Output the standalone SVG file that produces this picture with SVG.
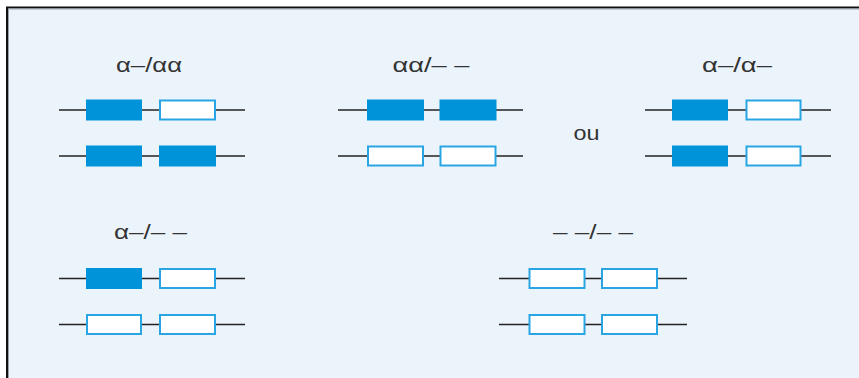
<svg xmlns="http://www.w3.org/2000/svg" width="859" height="378" viewBox="0 0 859 378">
<style>
.bg{fill:#EBF3FB}
.ln{stroke:#222;stroke-width:1.6;fill:none}
.f{fill:#0093DA}
.o{fill:#fff;stroke:#2AA5E3;stroke-width:2}
.t{font-family:"Liberation Sans",Arial,sans-serif;font-size:20px;fill:#333;text-anchor:middle}
</style>
<rect class="bg" x="6" y="7" width="853" height="371"/>
<path d="M7,378 V7.5 H859" fill="none" stroke="#111" stroke-width="2"/>
<path d="M8.5,378 V9 H859" fill="none" stroke="#9AA3AA" stroke-width="1"/>

<g id="connectors">
<line class="ln" x1="59" y1="110" x2="245" y2="110"/>
<line class="ln" x1="59" y1="156" x2="245" y2="156"/>
<line class="ln" x1="338" y1="110" x2="523" y2="110"/>
<line class="ln" x1="338" y1="156" x2="523" y2="156"/>
<line class="ln" x1="645" y1="110" x2="831" y2="110"/>
<line class="ln" x1="645" y1="156" x2="831" y2="156"/>
<line class="ln" x1="59" y1="278.5" x2="245" y2="278.5"/>
<line class="ln" x1="59" y1="324.5" x2="245" y2="324.5"/>
<line class="ln" x1="499" y1="278.5" x2="687" y2="278.5"/>
<line class="ln" x1="499" y1="324.5" x2="687" y2="324.5"/>
</g>

<g id="g1">
<text class="t" x="149" y="71.5" textLength="66" lengthAdjust="spacingAndGlyphs">α–/αα</text>
<rect class="f" x="86" y="99.5" width="56" height="21"/>
<rect class="o" x="160" y="100.5" width="55" height="19"/>
<rect class="f" x="86" y="145.5" width="56" height="21"/>
<rect class="f" x="159" y="145.5" width="57" height="21"/>
</g>

<g id="g2">
<text class="t" x="431" y="71.5" textLength="77" lengthAdjust="spacingAndGlyphs">αα/– –</text>
<rect class="f" x="367" y="99.5" width="57" height="21"/>
<rect class="f" x="439.5" y="99.5" width="57" height="21"/>
<rect class="o" x="368" y="146.5" width="55" height="19"/>
<rect class="o" x="440.5" y="146.5" width="55" height="19"/>
</g>

<g id="ou">
<text class="t" x="586.5" y="140" font-size="19" textLength="26" lengthAdjust="spacingAndGlyphs">ou</text>
</g>

<g id="g3">
<text class="t" x="737" y="71.5" textLength="70" lengthAdjust="spacingAndGlyphs">α–/α–</text>
<rect class="f" x="672" y="99.5" width="56" height="21"/>
<rect class="o" x="746.5" y="100.5" width="54" height="19"/>
<rect class="f" x="672" y="145.5" width="56" height="21"/>
<rect class="o" x="746.5" y="146.5" width="54" height="19"/>
</g>

<g id="g4">
<text class="t" x="150.5" y="239" textLength="73" lengthAdjust="spacingAndGlyphs">α–/– –</text>
<rect class="f" x="86" y="268" width="56" height="21"/>
<rect class="o" x="160" y="269" width="55" height="19"/>
<rect class="o" x="87" y="315" width="54" height="19"/>
<rect class="o" x="160" y="315" width="55" height="19"/>
</g>

<g id="g5">
<text class="t" x="593" y="239" textLength="80" lengthAdjust="spacingAndGlyphs">– –/– –</text>
<rect class="o" x="529.5" y="269" width="55" height="19"/>
<rect class="o" x="602" y="269" width="55" height="19"/>
<rect class="o" x="529.5" y="315" width="55" height="19"/>
<rect class="o" x="602" y="315" width="55" height="19"/>
</g>
</svg>
